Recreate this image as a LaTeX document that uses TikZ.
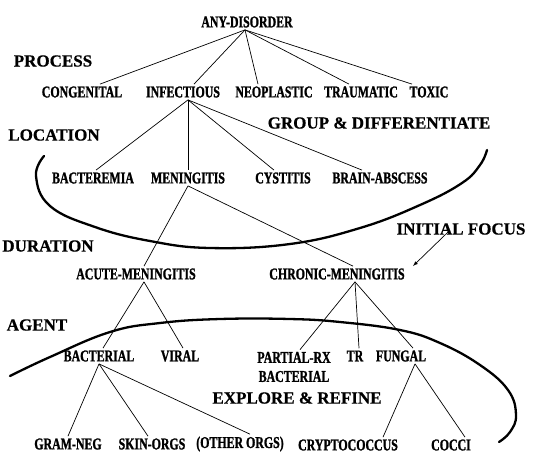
\documentclass[tikz,border=0pt]{standalone}
\usepackage{fontspec}
\usetikzlibrary{arrows, positioning}
\newfontfamily\treefont[FakeStretch=0.72, FakeBold=1.2]{Liberation Serif}
\newfontfamily\stagefont[FakeBold=0.6]{Liberation Serif}

\begin{document}
\begin{tikzpicture}[x=1pt, y=-1pt, line width=0.7pt,
                    tree node/.style= {inner sep=2pt,
                      font=\treefont\bfseries\fontsize{16.5}{17}\selectfont},
                    stage/.style= {inner sep=0pt,
                      font=\stagefont\bfseries\fontsize{17}{18}\selectfont},
                    region/.style= {line width=2.3pt, line cap=round}]
  \useasboundingbox (0,0) rectangle (534,456);

  % top levels
  \node[tree node] (any) at (247,22) {ANY-DISORDER};
  \node[tree node] (cong) at (82,92) {CONGENITAL};
  \node[tree node] (infect) at (183,92) {INFECTIOUS};
  \node[tree node] (neo) at (274,92) {NEOPLASTIC};
  \node[tree node] (trauma) at (361,92) {TRAUMATIC};
  \node[tree node] (toxic) at (429,92) {TOXIC};

  \node[tree node] (bactrm) at (93,178) {BACTEREMIA};
  \node[tree node] (mening) at (188,178) {MENINGITIS};
  \node[tree node] (cyst) at (283,178) {CYSTITIS};
  \node[tree node] (brain) at (380,178) {BRAIN-ABSCESS};

  \node[tree node] (acute) at (136,274) {ACUTE-MENINGITIS};
  \node[tree node] (chronic) at (337,274) {CHRONIC-MENINGITIS};

  % lower levels
  \node[tree node] (bact) at (99,356) {BACTERIAL};
  \node[tree node] (viral) at (180,356) {VIRAL};
  \node[tree node, align=center, inner sep=2pt] (partial) at (294,367) {PARTIAL-RX\\[2pt]BACTERIAL};
  \node[tree node] (tr) at (355,356) {TR};
  \node[tree node] (fungal) at (401,356) {FUNGAL};

  \node[tree node] (gram) at (68,444) {GRAM-NEG};
  \node[tree node] (skin) at (152,444) {SKIN-ORGS};
  \node[tree node] (other) at (240,444) {(OTHER ORGS)};
  \node[tree node] (crypto) at (348,445) {CRYPTOCOCCUS};
  \node[tree node] (cocci) at (451,445) {COCCI};

  % stage names
  \node[stage] (process) at (53,61) {PROCESS};
  \node[stage] (location) at (54,135) {LOCATION};
  \node[stage] (duration) at (48,246) {DURATION};
  \node[stage] (agent) at (37,325) {AGENT};
  \node[stage] (group) at (379,123) {GROUP \& DIFFERENTIATE};
  \node[stage] (focus) at (461,229) {INITIAL FOCUS};
  \node[stage] (explore) at (297,398) {EXPLORE \& REFINE};

  \path[draw]
    ([xshift=-2pt]any.south) edge ([xshift=18pt]cong.north)
    ([xshift=-2pt]any.south) edge ([xshift=11pt]infect.north)
    ([xshift=-2pt]any.south) edge ([xshift=-16pt]neo.north)
    ([xshift=-2pt]any.south) edge ([xshift=-12pt]trauma.north)
    ([xshift=-2pt]any.south) edge ([xshift=-17pt]toxic.north)
    ([xshift=5pt]infect.south) edge ([xshift=3pt]bactrm.north)
    ([xshift=5pt]infect.south) edge (mening.north)
    ([xshift=5pt]infect.south) edge ([xshift=-9pt]cyst.north)
    ([xshift=5pt]infect.south) edge ([xshift=-18pt]brain.north)
    (mening.south) edge ([xshift=8pt]acute.north)
    (mening.south) edge ([xshift=16pt]chronic.north)
    ([xshift=8pt]acute.south) edge ([xshift=4pt]bact.north)
    ([xshift=8pt]acute.south) edge ([xshift=3pt]viral.north)
    ([xshift=18pt]chronic.south) edge ([xshift=6pt]partial.north)
    ([xshift=18pt]chronic.south) edge ([xshift=4pt]tr.north)
    ([xshift=18pt]chronic.south) edge ([xshift=12pt]fungal.north)
    (bact.south) edge (gram.north)
    (bact.south) edge ([xshift=-4pt]skin.north)
    (bact.south) edge ([xshift=10pt]other.north)
    ([xshift=14pt]fungal.south) edge ([xshift=35pt]crypto.north)
    ([xshift=14pt]fungal.south) edge ([xshift=14pt]cocci.north);

  % the two regions
  \draw[region] plot[smooth, tension=0.7] coordinates {(44,156) (36,176) (50,206)
    (95,227) (150,241) (210,248) (290,244) (360,228) (420,205) (462,183) (480,165) (487,150)};
  \draw[region] plot[smooth, tension=0.7] coordinates {(10,376) (50,357) (110,332)
    (160,323) (220,319) (290,319) (340,322) (400,330) (440,343) (480,365) (508,390)
    (516,415) (510,432) (499,442)};

  \coordinate (focustip) at (413,266);
  \draw[-latex] ([xshift=-13pt, yshift=3pt]focus.south) -- (focustip);
\end{tikzpicture}
\end{document}
